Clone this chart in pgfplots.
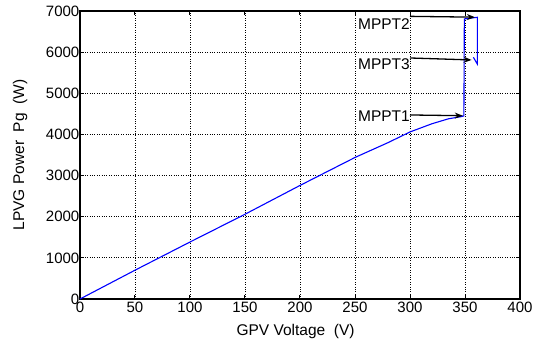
\documentclass[border=0pt]{standalone}
\usepackage{fontspec}
\setmainfont{Liberation Sans}
\usepackage{pgfplots}
\pgfplotsset{compat=1.18}
\usetikzlibrary{arrows.meta}
\begin{document}
\begin{tikzpicture}
\begin{axis}[
  scale only axis,
  width=440pt, height=288pt,
  xmin=0, xmax=400, ymin=0, ymax=7000,
  xtick={0,50,...,400}, ytick={0,1000,...,7000},
  /pgf/number format/assume math mode=true,
  /pgf/number format/1000 sep={},
  ticklabel style={font=\fontsize{15}{18}\selectfont},
  tick align=inside, tick pos=both,
  major tick length=4pt,
  tick style={black, line width=1pt},
  axis line style={black, line width=1.6pt},
  grid=major,
  major grid style={black, dotted, line width=0.8pt},
  yticklabel style={inner sep=0pt, xshift=-0.5pt},
  xticklabel style={inner sep=0pt, yshift=-3pt},
  xlabel={GPV Voltage\ \ (V)},
  ylabel={LPVG Power\ \ Pg\ \ (W)},
  label style={font=\fontsize{15.5}{18}\selectfont},
  xlabel style={at={(axis description cs:0.49,-0.112)}, anchor=center},
  ylabel style={at={(axis description cs:-0.136,0.5)}, anchor=center, rotate=0},
  clip=false,
]
\addplot[blue, line width=1.1pt] coordinates {
  (0,0) (50,700) (100,1385) (150,2060) (200,2760) (250,3440) (280,3800) (300,4060) (320,4260) (335,4380) (346,4430) (349,4450)
  (349.4,6806) (361.2,6847) (361.2,5712) (357.6,5874)
};
\node[anchor=east, inner sep=0pt, font=\fontsize{15.5}{18}\selectfont] at (axis cs:300,6684) {MPPT2};
\node[anchor=east, inner sep=0pt, font=\fontsize{15.5}{18}\selectfont] at (axis cs:300,5712) {MPPT3};
\node[anchor=east, inner sep=0pt, font=\fontsize{15.5}{18}\selectfont] at (axis cs:300,4448) {MPPT1};
\draw[-{Stealth[length=8pt,width=6pt]}, black, line width=1.3pt] (axis cs:300,6870) -- (axis cs:359,6850);
\draw[-{Stealth[length=8pt,width=6pt]}, black, line width=1.3pt] (axis cs:300,5858) -- (axis cs:356,5810);
\draw[-{Stealth[length=8pt,width=6pt]}, black, line width=1.3pt] (axis cs:300,4473) -- (axis cs:348,4455);
\path (rel axis cs:0,0) ++(-80pt,-48pt) coordinate (bbA);
\path (rel axis cs:1,1) ++(18pt,11pt) coordinate (bbB);
\path (bbA) rectangle (bbB);
\end{axis}
\end{tikzpicture}
\end{document}
